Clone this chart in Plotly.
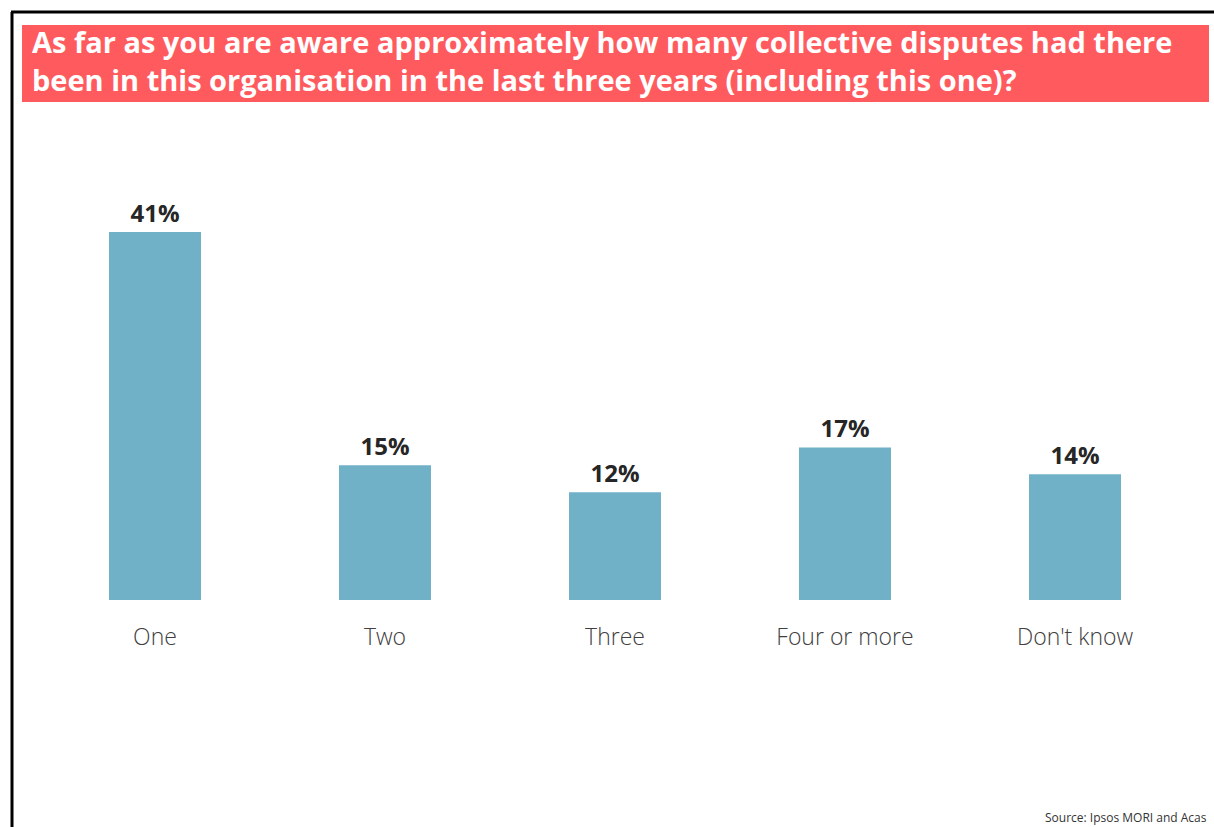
import plotly.graph_objects as go

categories = ["One", "Two", "Three", "Four or more", "Don't know"]
values = [41, 15, 12, 17, 14]
value_labels = ["41%", "15%", "12%", "17%", "14%"]

title_lines = [
    "As far as you are aware approximately how many collective disputes had there",
    "been in this organisation in the last three years (including this one)?",
]
source_text = "Source: Ipsos MORI and Acas"

W, H = 1214, 827
L, R, T, B = 40, 24, 196, 227
pw, ph = W - L - R, H - T - B


def px(x):
    return (x - L) / pw


def py(y):
    return (H - B - y) / ph


fig = go.Figure(go.Bar(
    x=categories, y=values,
    marker=dict(color="#71B1C8", line=dict(width=0)),
    text=value_labels, textposition="outside", cliponaxis=False,
    textfont=dict(family="Open Sans", size=24, color="#262626", weight="bold"),
    hoverinfo="skip",
))

annotations = [
    dict(text="<br>".join(title_lines), xref="paper", yref="paper", x=px(30), y=py(20),
         xanchor="left", yanchor="top", align="left", showarrow=False,
         font=dict(family="Open Sans", size=29, color="white", weight="bold")),
    dict(text=source_text, xref="paper", yref="paper", x=px(1209), y=py(828),
         xanchor="right", yanchor="bottom", showarrow=False,
         font=dict(family="Open Sans", size=12, color="#333333")),
]

fig.update_layout(
    width=W, height=H,
    margin=dict(l=L, r=R, t=T, b=B),
    paper_bgcolor="white", plot_bgcolor="white",
    bargap=0.6, showlegend=False,
    xaxis=dict(showgrid=False, zeroline=False, showline=False, ticks="",
               tickfont=dict(family="Open Sans", size=23, color="#404040", weight=300),
               ticklabelstandoff=21),
    yaxis=dict(range=[0, 404 / (368 / 41)], visible=False, fixedrange=True),
    shapes=[
        # frame (left and top edges)
        dict(type="line", xref="paper", yref="paper", x0=px(12), x1=px(12), y0=py(12), y1=py(840),
             line=dict(color="black", width=3)),
        dict(type="line", xref="paper", yref="paper", x0=px(11), x1=px(1230), y0=py(12), y1=py(12),
             line=dict(color="black", width=3)),
        # title banner
        dict(type="rect", xref="paper", yref="paper", x0=px(22), x1=px(1209), y0=py(25), y1=py(102),
             fillcolor="#FF5A5E", line=dict(width=0), layer="below"),
    ],
    annotations=annotations,
)

fig.write_html("out.html")
